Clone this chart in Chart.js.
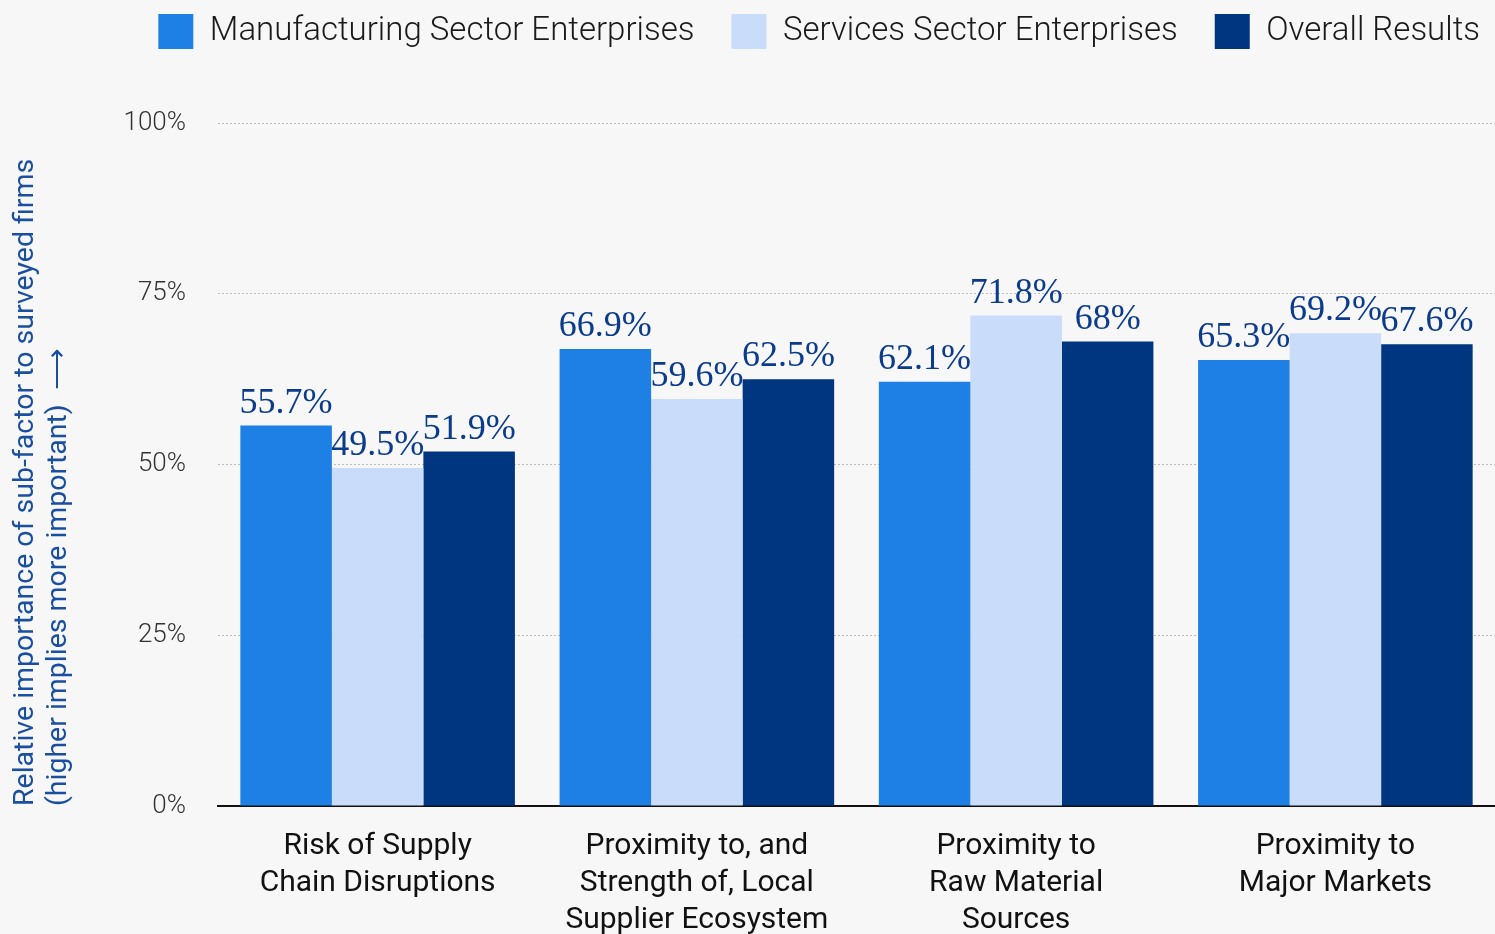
<!DOCTYPE html>
<html>
<head>
<meta charset="utf-8">
<script src="https://cdn.jsdelivr.net/npm/chart.js@4"></script>
<style>
  body { margin: 0; background: #f7f7f7; }
  canvas { display: block; background: #f7f7f7; }
</style>
</head>
<body>
<canvas id="myChart" width="1495" height="934"></canvas>
<script>
const categories = [
    ['Risk of Supply', 'Chain Disruptions'],
    ['Proximity to, and', 'Strength of, Local', 'Supplier Ecosystem'],
    ['Proximity to', 'Raw Material', 'Sources'],
    ['Proximity to', 'Major Markets']
];
const manufacturing = [55.7, 66.9, 62.1, 65.3];
const services = [49.5, 59.6, 71.8, 69.2];
const overall = [51.9, 62.5, 68, 67.6];
const seriesNames = ['Manufacturing Sector Enterprises', 'Services Sector Enterprises', 'Overall Results'];
const yTicks = [0, 25, 50, 75, 100];

// value labels above each bar
const barLabels = {
    id: 'barLabels',
    afterDatasetsDraw(chart) {
        const ctx = chart.ctx;
        ctx.save();
        ctx.font = '36px "Liberation Serif"';
        ctx.fillStyle = '#0b3b8c';
        ctx.textAlign = 'center';
        ctx.textBaseline = 'alphabetic';
        chart.data.datasets.forEach((ds, i) => {
            chart.getDatasetMeta(i).data.forEach((bar, j) => {
                ctx.fillText(ds.data[j] + '%', bar.x, bar.y - 13);
            });
        });
        ctx.restore();
    }
};

// extra room under the legend and nudge it towards the right edge
const legendSpacing = {
    id: 'legendSpacing',
    beforeInit(chart) {
        const fit = chart.legend.fit;
        chart.legend.fit = function () {
            fit.call(this);
            this.height += 65;
        };
    },
    afterLayout(chart) {
        chart.legend.left += 22;
        chart.legend.right += 22;
        chart.legend.top += 1;
    }
};

const ctx = document.getElementById('myChart').getContext('2d');
const myChart = new Chart(ctx, {
    type: 'bar',
    data: {
        labels: categories,
        datasets: [
            { label: seriesNames[0], data: manufacturing, backgroundColor: '#1e80e5' },
            { label: seriesNames[1], data: services, backgroundColor: '#c9ddfa' },
            { label: seriesNames[2], data: overall, backgroundColor: '#003580' }
        ]
    },
    options: {
        responsive: false,
        animation: false,
        layout: { padding: { top: -24, right: 0, left: 0, bottom: 0 } },
        datasets: {
            bar: { categoryPercentage: 0.86, barPercentage: 1.0, borderWidth: 0 }
        },
        plugins: {
            tooltip: { enabled: false },
            legend: {
                position: 'top',
                align: 'end',
                labels: {
                    boxWidth: 35,
                    boxHeight: 35,
                    padding: 37,
                    color: '#1a1a1a',
                    font: { family: 'Roboto', size: 33, weight: 300 }
                }
            }
        },
        scales: {
            x: {
                grid: { display: false, drawTicks: false },
                border: { display: true, color: '#111', width: 2 },
                ticks: {
                    padding: 22,
                    color: '#111',
                    maxRotation: 0,
                    font: { family: 'Roboto', size: 30, lineHeight: 1.23 }
                },
                afterFit(scale) { scale.height = 128; }
            },
            y: {
                min: 0,
                max: 100,
                afterBuildTicks(scale) { scale.ticks = yTicks.map(v => ({ value: v })); },
                grid: { color: '#bdbdbd', lineWidth: 1, drawTicks: false },
                border: { display: false, dash: [2, 2] },
                ticks: {
                    padding: 32,
                    color: '#333',
                    font: { family: 'Roboto', size: 26, weight: 300 },
                    callback: v => v + '%'
                },
                title: {
                    display: true,
                    text: ['Relative importance of sub-factor to surveyed firms', '(higher implies more important)  \u27F6'],
                    align: 'start',
                    color: '#1a4f9f',
                    font: { family: 'Roboto', size: 28.5, lineHeight: 1.16 },
                    padding: { top: 9, bottom: 0 }
                },
                afterFit(scale) { scale.width = 218; }
            }
        }
    },
    plugins: [barLabels, legendSpacing]
});
</script>
</body>
</html>
